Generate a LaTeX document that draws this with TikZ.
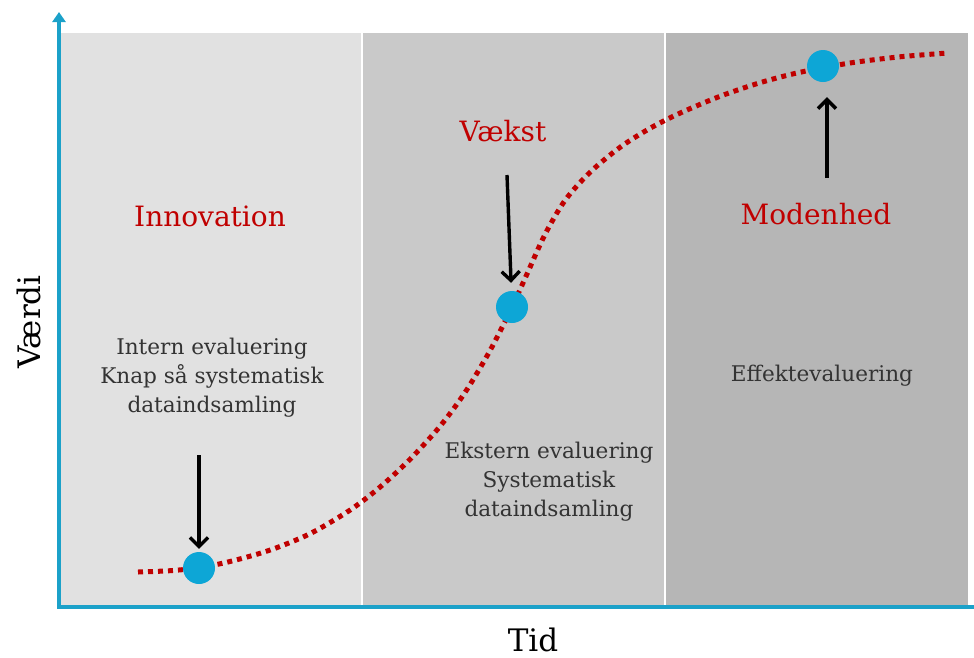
\documentclass[tikz,border=0pt]{standalone}
\usepackage{fontspec}
\setmainfont{DejaVu Serif}
\usetikzlibrary{arrows.meta}

\definecolor{axisblue}{HTML}{1BA1C9}
\definecolor{dotblue}{HTML}{0DA6D6}
\definecolor{curvered}{HTML}{C00000}
\definecolor{phaseone}{HTML}{E1E1E1}
\definecolor{phasetwo}{HTML}{C9C9C9}
\definecolor{phasethree}{HTML}{B6B6B6}
\definecolor{bodytext}{HTML}{333333}

\begin{document}
\begin{tikzpicture}[x=1pt, y=-1pt,
  phaselabel/.style={text=curvered, font=\fontsize{28}{32}\selectfont, inner sep=0pt},
  note/.style={text=bodytext, font=\fontsize{21.6}{29}\selectfont, align=center, inner sep=0pt},
  axislabel/.style={text=black, font=\fontsize{31}{34}\selectfont, inner sep=0pt},
  milestone/.style={circle, fill=dotblue, minimum size=32pt, inner sep=0pt},
  pointer/.style={line width=3.4pt, -{Straight Barb[length=9pt, width=18pt, line width=3.4pt]}},
  axisline/.style={draw=axisblue, line width=3.2pt},
  scurve/.style={draw=curvered, line width=5pt, dash pattern=on 5pt off 5pt}
]
\useasboundingbox (0,0) rectangle (974,657);

% phase panels
\fill[phaseone]   (60,33) rectangle (362,607);
\fill[phasetwo]   (362,33) rectangle (665,607);
\fill[phasethree] (665,33) rectangle (968,607);
\draw[white, line width=2.6pt] (362,33) -- (362,607);
\draw[white, line width=2.6pt] (665,33) -- (665,607);

% axes
\coordinate (O) at (59,607);
\coordinate (ytop) at (59,12);
\coordinate (xend) at (986,607);
\draw[axisline, -{Triangle[length=10pt, width=13pt]}] (O) -- (ytop);
\draw[axisline, -{Triangle[length=10pt, width=13pt]}] (57,607) -- (xend);

\node[axislabel, rotate=90] (yl) at (29,322) {Værdi};
\node[axislabel, anchor=base] (xl) at (533,651) {Tid};

% growth curve (S-shaped adoption curve)
\draw[scurve] plot[smooth, tension=0.5] coordinates {
  (138,572) (170,570.7) (199,567.7) (230,561.5) (270,550.1) (310,533.7)
  (350,510.1) (380,487.1) (410,459.3) (440,426.3) (465,392.5) (490,350.6)
  (512,307.1) (527,274) (545,234.4) (565,200.4) (590,172.3) (620,147.3)
  (650,128.3) (680,113.1) (720,96.3) (760,82.7) (800,72.3) (850,63)
  (900,56.8) (945,53.2)};

% milestones
\node[milestone] (d1) at (199,568) {};
\node[milestone] (d2) at (512,307) {};
\node[milestone] (d3) at (823,66) {};

% phase names
\node[phaselabel] (p1) at (210,216) {Innovation};
\node[phaselabel] (p2) at (503,131) {Vækst};
\node[phaselabel] (p3) at (816,214) {Modenhed};

% evaluation notes
\node[note] (n1) at (212,378) {Intern evaluering\\Knap så systematisk\\dataindsamling};
\node[note] (n2) at (549,482) {Ekstern evaluering\\Systematisk\\dataindsamling};
\node[note] (n3) at (822,376) {Effektevaluering};

% pointers to the milestones
\coordinate (s1) at (199,455);
\coordinate (s2) at (507,175);
\coordinate (s3) at (827,178);
\draw[pointer, shorten >=3pt] (s1) -- (d1);
\draw[pointer, shorten >=8pt] (s2) -- (d2);
\draw[pointer, shorten >=15pt] (s3) -- (s3 |- d3.south);
\end{tikzpicture}
\end{document}
